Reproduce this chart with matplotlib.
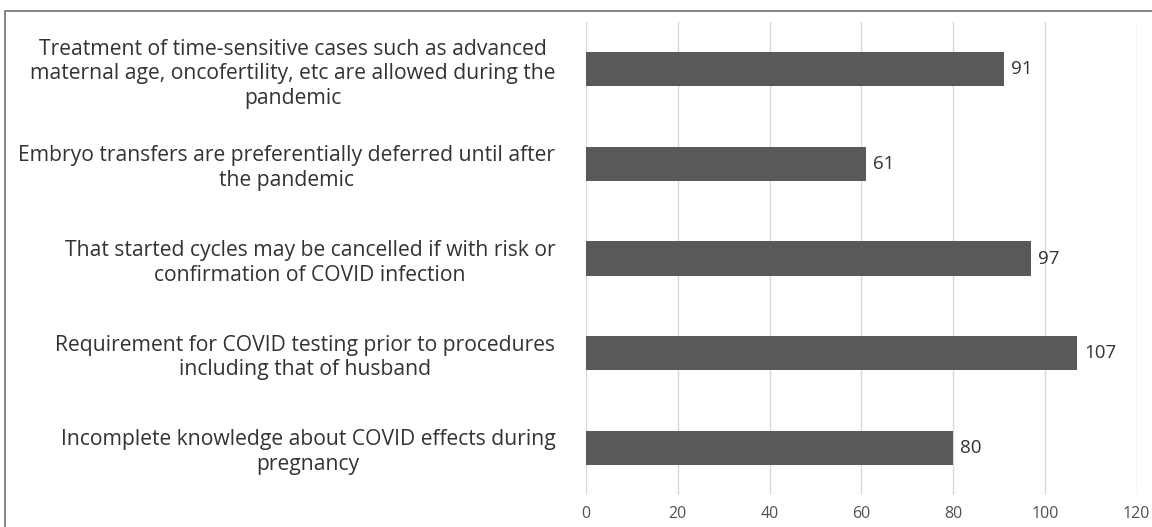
import matplotlib.pyplot as plt
from matplotlib.patches import Rectangle

# survey items, top to bottom as shown
labels = [
    "Treatment of time-sensitive cases such as advanced\nmaternal age, oncofertility, etc are allowed during the\npandemic",
    "Embryo transfers are preferentially deferred until after\nthe pandemic",
    "That started cycles may be cancelled if with risk or\nconfirmation of COVID infection",
    "Requirement for COVID testing prior to procedures\nincluding that of husband",
    "Incomplete knowledge about COVID effects during\npregnancy",
]
counts = [91, 61, 97, 107, 80]
xticks = [0, 20, 40, 60, 80, 100, 120]

plt.rcParams['font.family'] = ['Open Sans', 'DejaVu Sans']

fig = plt.figure(figsize=(11.52, 5.27), dpi=100)
ax = fig.add_axes([0.5087, 0.0607, 0.478, 0.8975])

ypos = list(range(len(labels)))[::-1]
ax.barh(ypos, counts, height=0.36, color='#595959', zorder=3)

# value labels at bar ends
for y, v in zip(ypos, counts):
    ax.text(v + 1.6, y, str(v), va='center', ha='left', fontsize=13.5, color='#333333')

ax.set_xlim(0, 120)
ax.set_ylim(-0.5, 4.5)
ax.set_xticks(xticks)
ax.set_yticks(ypos)
ax.set_yticklabels(labels, multialignment='center', fontsize=15.2, color='#333333',
                   linespacing=1.22)
ax.tick_params(axis='x', length=0, labelsize=11.5, labelcolor='#505050', pad=8)
ax.tick_params(axis='y', length=0, pad=22)

ax.grid(axis='x', color='#d9d9d9', linewidth=1, zorder=0)
for s in ax.spines.values():
    s.set_visible(False)

# frame around the chart (cut at right and bottom like the picture)
fig.patches.append(Rectangle((5 / 1152, -0.05), 1.2, 1 - 11 / 527 + 0.05,
                             transform=fig.transFigure, fill=False,
                             edgecolor='#707070', linewidth=1.2))

fig.savefig('out.png', dpi=100)
